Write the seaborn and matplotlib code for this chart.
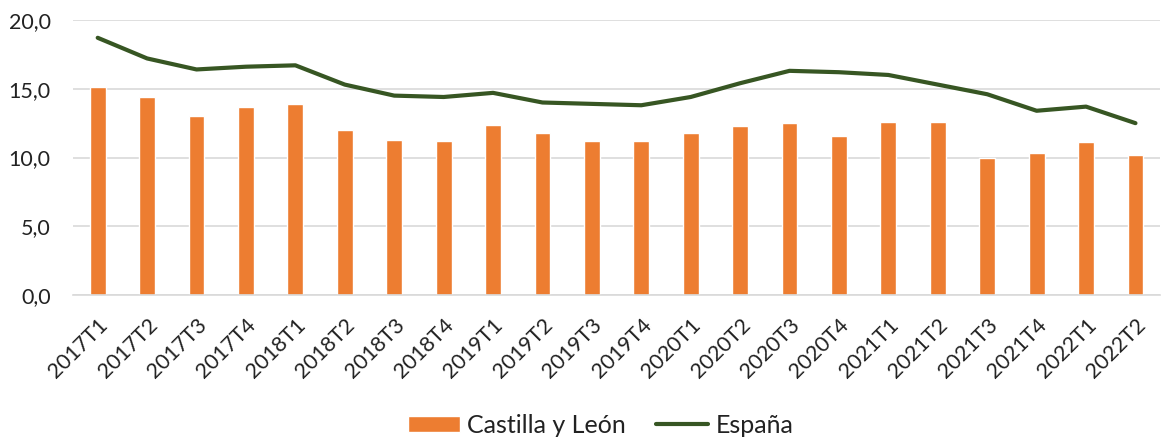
import numpy as np
import pandas as pd

import matplotlib
matplotlib.use('agg')
import matplotlib.pyplot as plt
import seaborn as sns

quarters = ['2017T1', '2017T2', '2017T3', '2017T4',
            '2018T1', '2018T2', '2018T3', '2018T4',
            '2019T1', '2019T2', '2019T3', '2019T4',
            '2020T1', '2020T2', '2020T3', '2020T4',
            '2021T1', '2021T2', '2021T3', '2021T4',
            '2022T1', '2022T2']
castilla = [15.1, 14.4, 13.0, 13.7, 13.9, 12.0, 11.3, 11.2, 12.4, 11.8, 11.2,
            11.2, 11.8, 12.3, 12.5, 11.6, 12.6, 12.6, 10.0, 10.3, 11.1, 10.2]
espana = [18.7, 17.2, 16.4, 16.6, 16.7, 15.3, 14.5, 14.4, 14.7, 14.0, 13.9,
          13.8, 14.4, 15.4, 16.3, 16.2, 16.0, 15.3, 14.6, 13.4, 13.7, 12.5]
yticks = [0, 5, 10, 15, 20]


def main():
    sns.set_style('white')
    plt.rcParams['font.family'] = ['Lato', 'DejaVu Sans']

    data = pd.DataFrame({'quarter': quarters,
                         'pos': np.arange(len(quarters)),
                         'castilla': castilla,
                         'espana': espana})

    fig = plt.figure(figsize=(11.66, 4.42), dpi=100)
    ax = fig.add_axes([0.0626, 0.332, 0.9324, 0.623])

    sns.barplot(data=data, x='quarter', y='castilla', color='#ED7D31',
                saturation=1, width=0.32, ax=ax, label='Castilla y León',
                zorder=2)
    sns.lineplot(data=data, x='pos', y='espana', color='#375623',
                 linewidth=3.0, ax=ax, label='España', zorder=3,
                 solid_capstyle='round')

    ax.set_ylim(0, 20)
    ax.set_xlim(-0.5, len(quarters) - 0.5)
    ax.set_yticks(yticks)
    ax.set_yticklabels([('%.1f' % v).replace('.', ',') for v in yticks])
    ax.set_xticks(np.arange(len(quarters)))
    ax.set_xticklabels(quarters, rotation=45, ha='right', rotation_mode='anchor')
    ax.tick_params(axis='y', labelsize=15.5, pad=16, length=0, colors='#222222')
    ax.tick_params(axis='x', labelsize=15.5, pad=14, length=0, colors='#222222')
    ax.grid(axis='y', color='#d9d9d9', linewidth=1.2, zorder=0)
    ax.set_axisbelow(True)
    for s in ['top', 'right', 'left']:
        ax.spines[s].set_visible(False)
    ax.spines['bottom'].set_color('#d9d9d9')
    ax.spines['bottom'].set_linewidth(1.2)
    ax.set_xlabel('')
    ax.set_ylabel('')

    handles, labels = ax.get_legend_handles_labels()
    order = [labels.index('Castilla y León'), labels.index('España')]
    ax.get_legend().remove()
    fig.legend([handles[i] for i in order], [labels[i] for i in order],
               loc='center', bbox_to_anchor=(0.515, 0.038),
               ncol=2, frameon=False, fontsize=18, handlelength=2.1,
               handleheight=0.64, handletextpad=0.28, columnspacing=1.2,
               labelcolor='#222222')

    plt.savefig('out.png', dpi=100)
    plt.close('all')


if __name__ == '__main__':
    main()
